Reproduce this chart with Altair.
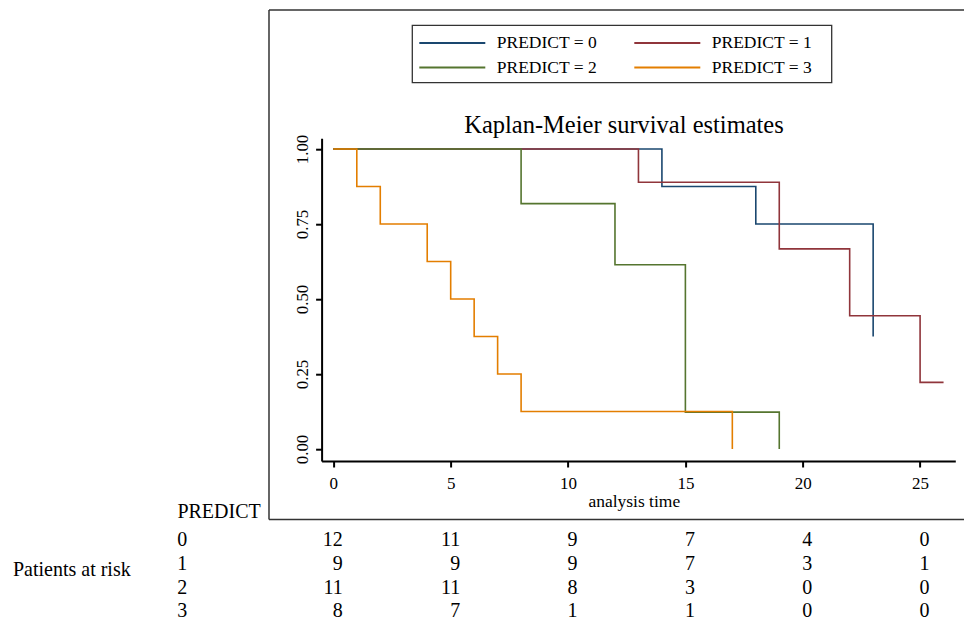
import altair as alt
import pandas as pd

FONT = "Liberation Serif"

# ---- data ----
groups = ["PREDICT = 0", "PREDICT = 1", "PREDICT = 2", "PREDICT = 3"]
colors = ["#1a476f", "#90353b", "#55752f", "#e37e00"]

time_0 = [0, 14, 18, 23]
surv_0 = [1.0, 0.875, 0.75, 0.375]
time_1 = [0, 13, 19, 22, 25, 26]
surv_1 = [1.0, 0.889, 0.667, 0.444, 0.222, 0.222]
time_2 = [0, 8, 12, 15, 19]
surv_2 = [1.0, 0.818, 0.614, 0.123, 0.0]
time_3 = [0, 1, 2, 4, 5, 6, 7, 8, 17]
surv_3 = [1.0, 0.875, 0.75, 0.625, 0.5, 0.375, 0.25, 0.125, 0.0]

risk_times = [0, 5, 10, 15, 20, 25]
risk_0 = [12, 11, 9, 7, 4, 0]
risk_1 = [9, 9, 9, 7, 3, 1]
risk_2 = [11, 11, 8, 3, 0, 0]
risk_3 = [8, 7, 1, 1, 0, 0]
row_labels = ["0", "1", "2", "3"]

x_ticks = [0, 5, 10, 15, 20, 25]
y_ticks = [0.0, 0.25, 0.5, 0.75, 1.0]

title_text = "Kaplan-Meier survival estimates"
x_title = "analysis time"
table_header = "PREDICT"
table_side = "Patients at risk"

# ---- tables built from the arrays ----
km_rows = []
for g, ts, ss in zip(groups, [time_0, time_1, time_2, time_3], [surv_0, surv_1, surv_2, surv_3]):
    for t, s in zip(ts, ss):
        km_rows.append({"group": g, "time": t, "surv": s})
km = pd.DataFrame(km_rows)

risk_rows = []
for r, vals in enumerate([risk_0, risk_1, risk_2, risk_3]):
    for t, v in zip(risk_times, vals):
        risk_rows.append({"row": r, "time": t, "n": str(v)})
risk = pd.DataFrame(risk_rows)

rows = pd.DataFrame({"row": list(range(len(row_labels))), "label": row_labels})
one = pd.DataFrame({"k": [0]})

W, H = 633.7, 322.8
x_scale = alt.Scale(domain=[-0.5, 26.5], nice=False, zero=False)
y_scale = alt.Scale(domain=[-0.04, 1.036], nice=False, zero=False)
row_scale = alt.Scale(domain=[0, 3], range=[407.5, 479.3], nice=False, zero=False)

axis_common = dict(
    grid=False, labelFont=FONT, labelFontSize=17, labelColor="black",
    tickColor="black", tickSize=6, tickWidth=2, domainColor="black",
    domainWidth=2, labelFlush=False,
)

# outer frame (open on the right, as it runs past the picture's edge)
BOX_L, BOX_R, BOX_T, BOX_B = -52.6, 668.4, -128.2, 381.3
frame_style = dict(color="#333333", strokeWidth=1.5)
frame_top = alt.Chart(one).mark_rule(**frame_style).encode(
    x=alt.value(BOX_L), x2=alt.value(BOX_R), y=alt.value(BOX_T))
frame_bottom = alt.Chart(one).mark_rule(**frame_style).encode(
    x=alt.value(BOX_L), x2=alt.value(BOX_R), y=alt.value(BOX_B))
frame_left = alt.Chart(one).mark_rule(**frame_style).encode(
    x=alt.value(BOX_L), y=alt.value(BOX_T), y2=alt.value(BOX_B))

legend_box = alt.Chart(one).mark_rect(fill="transparent", stroke="#333333", strokeWidth=1.3).encode(
    x=alt.value(90.7), x2=alt.value(510.1), y=alt.value(-112.9), y2=alt.value(-55.5)
)

lines = alt.Chart(km).mark_line(interpolate="step-after", strokeWidth=1.6).encode(
    x=alt.X("time:Q", scale=x_scale, title=x_title,
            axis=alt.Axis(values=x_ticks, format="d", labelBaseline="alphabetic",
                          labelPadding=21.3, labelAlign="center",
                          titleFont=FONT, titleFontSize=17.5, titleFontWeight="normal",
                          titleColor="black", titleX=312.2, titleY=45.3,
                          titleAlign="center", titleBaseline="alphabetic",
                          **axis_common)),
    y=alt.Y("surv:Q", scale=y_scale,
            axis=alt.Axis(values=y_ticks, format=".2f", labelAngle=270,
                          labelAlign="center", labelBaseline="alphabetic",
                          labelPadding=8, title=None, **axis_common)),
    color=alt.Color("group:N", scale=alt.Scale(domain=groups, range=colors),
                    legend=alt.Legend(orient="none", legendX=96.7, legendY=-104.2,
                                      direction="horizontal", columns=2,
                                      symbolType="stroke", symbolSize=4356,
                                      symbolStrokeWidth=2, labelFont=FONT,
                                      labelFontSize=17.5, labelColor="black",
                                      labelOffset=10.5, columnPadding=36,
                                      rowPadding=6.5, clipHeight=18,
                                      padding=0, title=None)),
    order=alt.Order("time:Q"),
)

title_mark = alt.Chart(one).mark_text(
    text=title_text, font=FONT, fontSize=24.5, color="black",
    align="center", baseline="alphabetic"
).encode(x=alt.value(302.4), y=alt.value(-5.2))

header = alt.Chart(one).mark_text(
    text=table_header, font=FONT, fontSize=20, color="black",
    align="left", baseline="alphabetic"
).encode(x=alt.value(-144.2), y=alt.value(380.1))

side = alt.Chart(one).mark_text(
    text=table_side, font=FONT, fontSize=20, color="black",
    align="left", baseline="alphabetic"
).encode(x=alt.value(-308.6), y=alt.value(437.5))

row_text = alt.Chart(rows).mark_text(
    font=FONT, fontSize=20, color="black", align="left", baseline="alphabetic"
).encode(
    x=alt.value(-144.4),
    y=alt.Y("row:Q", scale=row_scale, axis=None),
    text="label:N",
)

numbers = alt.Chart(risk).mark_text(
    font=FONT, fontSize=20, color="black", align="right", baseline="alphabetic", dx=9.5
).encode(
    x=alt.X("time:Q", title=x_title),
    y=alt.Y("row:Q", scale=row_scale, axis=None),
    text="n:N",
)

chart = alt.layer(
    frame_top, frame_bottom, frame_left, legend_box, lines,
    title_mark, header, side, row_text, numbers
).resolve_scale(y="independent").properties(
    width=W, height=H,
    autosize=alt.AutoSizeParams(type="none"),
    padding={"left": 313.6, "top": 130.2, "right": 8.5, "bottom": 160},
    background="white",
).configure_view(strokeWidth=0)

chart.save("out.html", embed_options={"renderer": "svg", "actions": False})
